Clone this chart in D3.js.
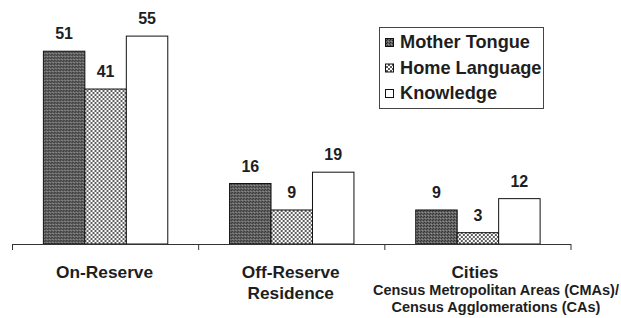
<!DOCTYPE html>
<html>
<head>
<meta charset="utf-8">
<script src="https://cdn.jsdelivr.net/npm/d3@7/dist/d3.min.js"></script>
<style>
  html, body { margin: 0; padding: 0; background: #fff; }
  svg { display: block; }
  text { font-family: "Liberation Sans", Arial, Helvetica, sans-serif; font-weight: bold; fill: #1e1e1e; }
</style>
</head>
<body>
<svg id="chart" width="621" height="318"></svg>
<script>
// ---- Data ----
const categories = ["On-Reserve", "Off-Reserve Residence", "Cities"];
const series = ["Mother Tongue", "Home Language", "Knowledge"];
const motherTongue = [51, 16, 9];
const homeLanguage = [41, 9, 3];
const knowledge = [55, 19, 12];
const categoryLabelLines = [["On-Reserve"], ["Off-Reserve", "Residence"], ["Cities"]];
const citiesSubLabel = ["Census Metropolitan Areas (CMAs)/", "Census Agglomerations (CAs)"];

const seriesValues = [motherTongue, homeLanguage, knowledge];
const rows = categories.map((c, i) => ({
  category: c,
  values: series.map((s, j) => ({ series: s, value: seriesValues[j][i] }))
}));

// ---- Layout ----
const svg = d3.select("#chart");
const baseline = 244;

const x0 = d3.scaleBand().domain(categories).range([12.5, 571]).paddingInner(0).paddingOuter(0);
const x1 = d3.scaleBand().domain(series).range([0, x0.bandwidth()]).paddingInner(0).paddingOuter(0.745);
const y = d3.scaleLinear().domain([0, 60]).range([baseline, baseline - 226.8]);

// ---- Patterns ----
const defs = svg.append("defs");
const pMT = defs.append("pattern").attr("id", "pMT").attr("patternUnits", "userSpaceOnUse")
  .attr("width", 3).attr("height", 3);
pMT.append("rect").attr("width", 3).attr("height", 3).attr("fill", "#646464");
pMT.append("rect").attr("x", 0).attr("y", 0).attr("width", 1).attr("height", 1).attr("fill", "#2a2a2a");
pMT.append("rect").attr("x", 2).attr("y", 1).attr("width", 1).attr("height", 1).attr("fill", "#303030");
pMT.append("rect").attr("x", 1).attr("y", 2).attr("width", 1).attr("height", 1).attr("fill", "#999");

const pHL = defs.append("pattern").attr("id", "pHL").attr("patternUnits", "userSpaceOnUse")
  .attr("width", 4).attr("height", 4);
pHL.append("rect").attr("width", 4).attr("height", 4).attr("fill", "#fff");
pHL.append("rect").attr("x", 0).attr("y", 0).attr("width", 2).attr("height", 2).attr("fill", "#1a1a1a");
pHL.append("rect").attr("x", 2).attr("y", 2).attr("width", 2).attr("height", 2).attr("fill", "#1a1a1a");
pHL.append("rect").attr("x", 0).attr("y", 0).attr("width", 4).attr("height", 4).attr("fill", "none");

const pHL2 = defs.append("pattern").attr("id", "pHLdots").attr("patternUnits", "userSpaceOnUse")
  .attr("width", 4).attr("height", 4);
pHL2.append("rect").attr("width", 4).attr("height", 4).attr("fill", "#fff");
pHL2.append("circle").attr("cx", 1).attr("cy", 1).attr("r", 0.95).attr("fill", "#1a1a1a");
pHL2.append("circle").attr("cx", 3).attr("cy", 3).attr("r", 0.95).attr("fill", "#1a1a1a");

const fills = { "Mother Tongue": "url(#pMT)", "Home Language": "url(#pHLdots)", "Knowledge": "#fff" };

// ---- Bars ----
const groups = svg.selectAll("g.grp").data(rows).join("g")
  .attr("class", "grp")
  .attr("transform", d => `translate(${x0(d.category)},0)`);

groups.selectAll("rect").data(d => d.values).join("rect")
  .attr("x", d => x1(d.series))
  .attr("y", d => y(d.value))
  .attr("width", x1.bandwidth())
  .attr("height", d => baseline - y(d.value))
  .attr("fill", d => fills[d.series])
  .attr("stroke", "#111")
  .attr("stroke-width", 1);

groups.selectAll("text.val").data(d => d.values).join("text")
  .attr("class", "val")
  .attr("x", d => x1(d.series) + x1.bandwidth() / 2)
  .attr("y", d => y(d.value) - 12)
  .attr("text-anchor", "middle")
  .attr("font-size", 16)
  .text(d => d.value);

// ---- Axis line with boundary ticks ----
const axisG = svg.append("g").attr("stroke", "#333").attr("stroke-width", 1);
const r = x0.range();
axisG.append("line").attr("x1", r[0]).attr("x2", r[1]).attr("y1", baseline + 0.5).attr("y2", baseline + 0.5);
const bounds = categories.map(c => x0(c)).concat([r[1]]);
axisG.selectAll("line.tick").data(bounds).join("line")
  .attr("class", "tick")
  .attr("x1", d => d).attr("x2", d => d)
  .attr("y1", baseline).attr("y2", baseline + 6);

// ---- Category labels ----
categories.forEach((c, i) => {
  const cx = x0(c) + x0.bandwidth() / 2;
  categoryLabelLines[i].forEach((line, k) => {
    svg.append("text")
      .attr("x", cx - (i === 2 ? 3 : 1))
      .attr("y", 278 + k * 21)
      .attr("text-anchor", "middle")
      .attr("font-size", 17.3)
      .text(line);
  });
});
const citiesCx = x0("Cities") + x0.bandwidth() / 2;
citiesSubLabel.forEach((line, k) => {
  svg.append("text")
    .attr("x", citiesCx + 18)
    .attr("y", 295 + k * 17)
    .attr("text-anchor", "middle")
    .attr("font-size", 14.5)
    .text(line);
});

// ---- Legend ----
const legend = svg.append("g");
legend.append("rect")
  .attr("x", 379.5).attr("y", 27.5).attr("width", 164).attr("height", 81)
  .attr("fill", "#fff").attr("stroke", "#444").attr("stroke-width", 1);
series.forEach((s, i) => {
  const top = 38 + i * 25.5;
  legend.append("rect")
    .attr("x", 385.5).attr("y", top + 0.5).attr("width", 8).attr("height", 8)
    .attr("fill", fills[s]).attr("stroke", "#111").attr("stroke-width", 1);
  legend.append("text")
    .attr("x", 400).attr("y", top + 10)
    .attr("font-size", 18.2)
    .text(s);
});
</script>
</body>
</html>
